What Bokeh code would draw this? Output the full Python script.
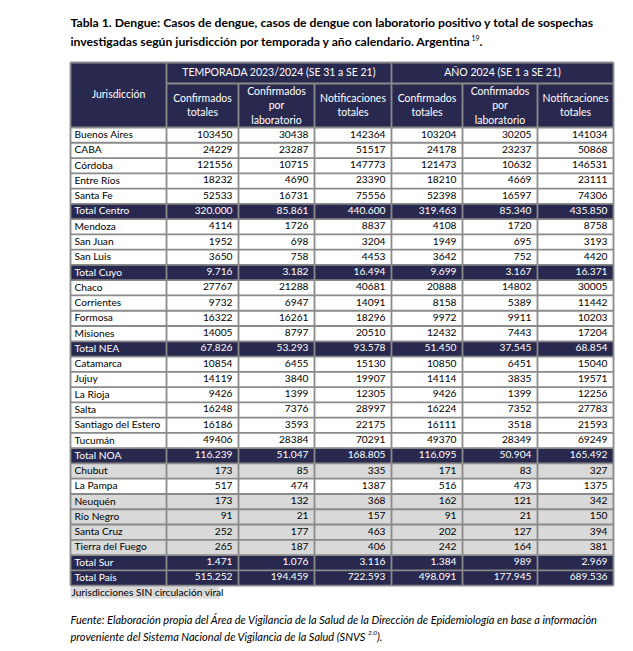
from bokeh.plotting import figure
from bokeh.models import Range1d
from bokeh.core.properties import value
from bokeh.embed import file_html
from bokeh.resources import INLINE

# ---------------- data ----------------
names = ["Buenos Aires", "CABA", "Córdoba", "Entre Ríos", "Santa Fe", "Total Centro",
         "Mendoza", "San Juan", "San Luis", "Total Cuyo",
         "Chaco", "Corrientes", "Formosa", "Misiones", "Total NEA",
         "Catamarca", "Jujuy", "La Rioja", "Salta", "Santiago del Estero", "Tucumán", "Total NOA",
         "Chubut", "La Pampa", "Neuquén", "Río Negro", "Santa Cruz", "Tierra del Fuego", "Total Sur",
         "Total País"]
conf_temp = [103450, 24229, 121556, 18232, 52533, 320000, 4114, 1952, 3650, 9716,
             27767, 9732, 16322, 14005, 67826, 10854, 14119, 9426, 16248, 16186, 49406, 116239,
             173, 517, 173, 91, 252, 265, 1471, 515252]
lab_temp = [30438, 23287, 10715, 4690, 16731, 85861, 1726, 698, 758, 3182,
            21288, 6947, 16261, 8797, 53293, 6455, 3840, 1399, 7376, 3593, 28384, 51047,
            85, 474, 132, 21, 177, 187, 1076, 194459]
notif_temp = [142364, 51517, 147773, 23390, 75556, 440600, 8837, 3204, 4453, 16494,
              40681, 14091, 18296, 20510, 93578, 15130, 19907, 12305, 28997, 22175, 70291, 168805,
              335, 1387, 368, 157, 463, 406, 3116, 722593]
conf_anio = [103204, 24178, 121473, 18210, 52398, 319463, 4108, 1949, 3642, 9699,
             20888, 8158, 9972, 12432, 51450, 10850, 14114, 9426, 16224, 16111, 49370, 116095,
             171, 516, 162, 91, 202, 242, 1384, 498091]
lab_anio = [30205, 23237, 10632, 4669, 16597, 85340, 1720, 695, 752, 3167,
            14802, 5389, 9911, 7443, 37545, 6451, 3835, 1399, 7352, 3518, 28349, 50904,
            83, 473, 121, 21, 127, 164, 989, 177945]
notif_anio = [141034, 50868, 146531, 23111, 74306, 435850, 8758, 3193, 4420, 16371,
              30005, 11442, 10203, 17204, 68854, 15040, 19571, 12256, 27783, 21593, 69249, 165492,
              327, 1375, 342, 150, 394, 381, 2969, 689536]
total_rows = ["Total Centro", "Total Cuyo", "Total NEA", "Total NOA", "Total Sur", "Total País"]
sin_circulacion = ["Chubut", "Neuquén", "Río Negro", "Santa Cruz", "Tierra del Fuego"]
group_headers = ["TEMPORADA 2023/2024 (SE 31 a SE 21)", "AÑO 2024 (SE 1 a SE 21)"]
sub_headers = [["Confirmados", "totales"], ["Confirmados", "por", "laboratorio"], ["Notificaciones", "totales"]]

title1 = "Tabla 1. Dengue: Casos de dengue, casos de dengue con laboratorio positivo y total de sospechas"
title2 = "investigadas según jurisdicción por temporada y año calendario. Argentina"
title_sup = "19"
note = "Jurisdicciones SIN circulación viral"
src1 = "Fuente: Elaboración propia del Área de Vigilancia de la Salud de la Dirección de Epidemiología en base a información"
src2 = "proveniente del Sistema Nacional de Vigilancia de la Salud (SNVS"
src_sup = "2.0"

# ---------------- layout ----------------
NAVY = "#29294f"
GREY_BG = "#d9d9d9"
LINE = "#8a8a8a"
FONT = "Lato"
BODY_FS = "10.2px"
cols = [70, 166, 238, 314, 391, 462, 537, 613]
h_top, h_mid, h_bot = 62, 83, 127
row_h = 15.27
n = len(names)

p = figure(width=625, height=643, x_range=Range1d(0, 625), y_range=Range1d(643, 0),
           output_backend="svg", toolbar_location=None, min_border=0)
p.axis.visible = False
p.grid.visible = False
p.outline_line_color = None
p.background_fill_color = "white"

# backgrounds
tops = [h_bot + i * row_h for i in range(n)]
bots = [t + row_h for t in tops]
fills = [NAVY if nm in total_rows else (GREY_BG if nm in sin_circulacion else "white") for nm in names]
p.quad(left=cols[0], right=cols[-1], top=h_top, bottom=h_bot, fill_color=NAVY, line_color=None)
p.quad(left=[cols[0]] * n, right=[cols[-1]] * n, top=tops, bottom=bots, fill_color=fills, line_color=None)

# note background
note_y = bots[-1] + 6.5
p.quad(left=cols[0], right=219, top=bots[-1] + 1, bottom=bots[-1] + 13, fill_color=GREY_BG, line_color=None)

# grid lines
x0s, y0s, x1s, y1s = [], [], [], []
for y in [h_top] + [h_bot] + bots:
    x0s.append(cols[0]); x1s.append(cols[-1]); y0s.append(y); y1s.append(y)
x0s += [cols[1], cols[4]]; x1s += [cols[4], cols[-1]]; y0s += [h_mid, h_mid]; y1s += [h_mid, h_mid]
for i, x in enumerate(cols):
    ytop = h_top if i in (0, 1, 4, 7) else h_mid
    x0s.append(x); x1s.append(x); y0s.append(ytop); y1s.append(bots[-1])
p.segment(x0=x0s, y0=y0s, x1=x1s, y1=y1s, line_color=LINE, line_width=1.8)

# header texts
hx, hy, ht = [], [], []
hx.append((cols[0] + cols[1]) / 2); hy.append((h_top + h_bot) / 2 - 1); ht.append("Jurisdicción")
hx += [(cols[1] + cols[4]) / 2, (cols[4] + cols[7]) / 2]; hy += [(h_top + h_mid) / 2 - 1] * 2; ht += group_headers
for g in range(2):
    for k, lines in enumerate(sub_headers):
        cx = (cols[1 + g * 3 + k] + cols[2 + g * 3 + k]) / 2
        cy = (h_mid + h_bot) / 2 - 0.5
        m = len(lines)
        for j, t in enumerate(lines):
            hx.append(cx); hy.append(cy + (j - (m - 1) / 2) * 14.5); ht.append(t)
p.text(x=hx, y=hy, text=ht, text_align="center", text_baseline="middle", text_color="white",
       text_font=value(FONT), text_font_size="10.5px")

# body texts
def fmt(v, total):
    return f"{v:,}".replace(",", ".") if total else str(v)

mids = [t + row_h / 2 - 1 for t in tops]
tcol = ["white" if nm in total_rows else "black" for nm in names]
p.text(x=[cols[0] + 4] * n, y=mids, text=names, text_align="left", text_baseline="middle",
       text_color=tcol, text_font=value(FONT), text_font_size=BODY_FS)
series = [conf_temp, lab_temp, notif_temp, conf_anio, lab_anio, notif_anio]
bx, by, bt, bc = [], [], [], []
for c, s in enumerate(series):
    for i, v in enumerate(s):
        bx.append(cols[c + 2] - 6); by.append(mids[i]); bt.append(fmt(v, names[i] in total_rows)); bc.append(tcol[i])
p.text(x=bx, y=by, text=bt, text_align="right", text_baseline="middle", text_color=bc,
       text_font=value(FONT), text_font_size=BODY_FS)

# note
p.text(x=[cols[0] + 1], y=[note_y], text=[note], text_baseline="middle", text_color="black",
       text_font=value(FONT), text_font_size=BODY_FS)

# title
p.text(x=[70, 70], y=[22, 41], text=[title1, title2], text_baseline="middle", text_color="black",
       text_font=value(FONT), text_font_size="12.2px", text_font_style="bold")
p.text(x=[471], y=[37], text=[title_sup], text_baseline="middle", text_color="black",
       text_font=value(FONT), text_font_size="7px")
p.text(x=[479], y=[41], text=["."], text_baseline="middle", text_color="black",
       text_font=value(FONT), text_font_size="12.2px", text_font_style="bold")

# source
p.text(x=[70, 70], y=[619, 636], text=[src1, src2], text_baseline="middle", text_color="black",
       text_font=value(FONT), text_font_size="11px", text_font_style="italic")
p.text(x=[367.5], y=[632], text=[src_sup], text_baseline="middle", text_color="black",
       text_font=value(FONT), text_font_size="6.5px", text_font_style="italic")
p.text(x=[376.5], y=[636], text=[")."], text_baseline="middle", text_color="black",
       text_font=value(FONT), text_font_size="11px", text_font_style="italic")

open("out.html", "w").write(file_html(p, INLINE))
